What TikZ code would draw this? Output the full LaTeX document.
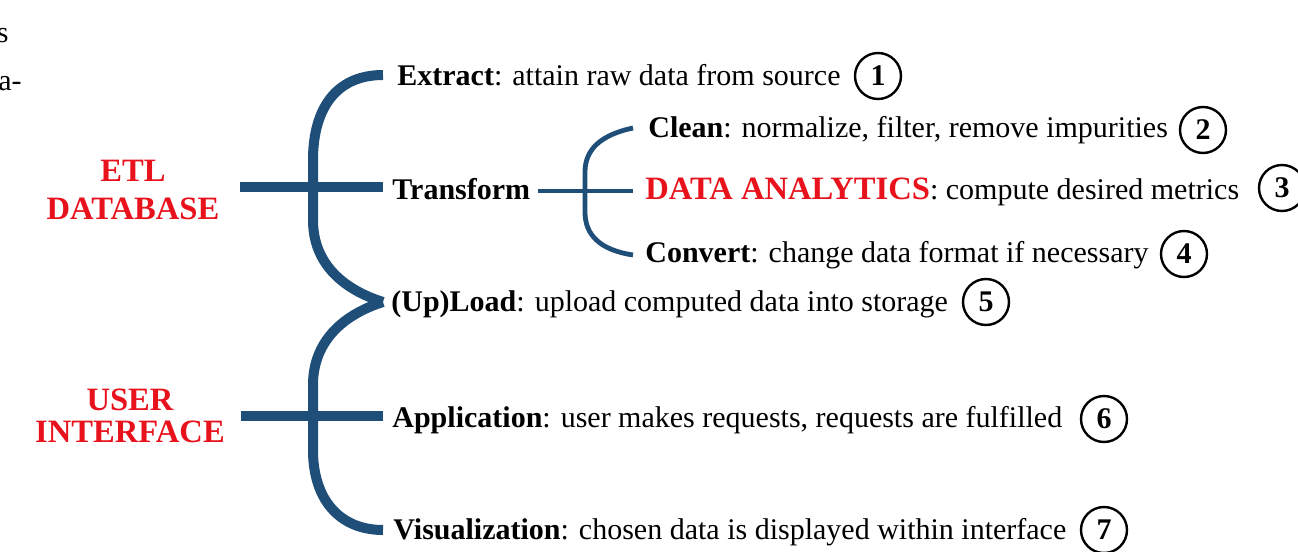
\documentclass[tikz,border=0pt]{standalone}
\usepackage{fontspec}
\setmainfont{Liberation Serif}
\definecolor{branch}{RGB}{31,78,121}
\definecolor{hot}{RGB}{232,18,28}
\tikzset{
  item/.style={anchor=base west, inner sep=0pt, font=\fontsize{15}{18}\selectfont},
  group/.style={align=center, inner sep=0pt, text=hot},
  num/.style={circle, draw, line width=1.2pt, minimum size=23pt, inner sep=0pt,
              font=\fontsize{15}{18}\selectfont\bfseries},
  trunk/.style={draw=branch, line width=5pt},
  twig/.style={draw=branch, line width=2.4pt},
}
\begin{document}
\begin{tikzpicture}[x=0.5pt,y=-0.5pt]
  \useasboundingbox (0,0) rectangle (1298,552);

  % stray letters of the surrounding page text
  \node[item, anchor=base east] (frag1) at (9,42) {s};
  \node[item] (frag2) at (-2,90) {a-};

  % group labels
  \node[group, font=\fontsize{16.3}{19}\selectfont\bfseries] (etl) at (133,190) {ETL\\DATABASE};
  \node[group, font=\fontsize{16.3}{16}\selectfont\bfseries] (ui) at (130,416) {USER\\INTERFACE};

  % stage texts
  \node[item] (extract) at (397,85) {\textbf{Extract}: attain raw data from source};
  \node[item] (transform) at (392,199) {\textbf{Transform}};
  \node[item] (clean) at (648,137) {\textbf{Clean}: normalize, filter, remove impurities};
  \node[item] (analytics) at (645,199) {{\fontsize{16.3}{18}\selectfont\bfseries\color{hot}DATA ANALYTICS}: compute desired metrics};
  \node[item] (convert) at (645,262) {\textbf{Convert}: change data format if necessary};
  \node[item] (upload) at (391,311) {\textbf{(Up)Load}: upload computed data into storage};
  \node[item] (app) at (392,427) {\textbf{Application}: user makes requests, requests are fulfilled};
  \node[item] (vis) at (393,539) {\textbf{Visualization}: chosen data is displayed within interface};

  % step numbers
  \node[num] (n1) at (878,76) {1};
  \node[num] (n2) at (1203,130) {2};
  \node[num] (n3) at (1282,188) {3};
  \node[num] (n4) at (1184,254) {4};
  \node[num] (n5) at (986,302) {5};
  \node[num] (n6) at (1104,419) {6};
  \node[num] (n7) at (1104,530) {7};

  % bracket end points
  \coordinate (bExt) at (383,75);
  \coordinate (bUp) at (383,302);
  \coordinate (bVis) at (383,530);
  \coordinate (sTop) at (633,128);
  \coordinate (sBot) at (633,255);
  \coordinate (sMid) at (633,191);

  % ETL bracket and its stem
  \draw[trunk] (bExt) .. controls (335,75) and (313,110) .. (313,160)
               -- (313,220) .. controls (313,265) and (345,290) .. (bUp);
  \draw[trunk] ([xshift=10pt]etl.east |- 0,187) -- (bExt |- 0,187);

  % user interface bracket and its stem
  \draw[trunk] (bUp) .. controls (345,314) and (313,340) .. (313,385)
               -- (313,450) .. controls (313,500) and (340,530) .. (bVis);
  \draw[trunk] ([xshift=8pt]ui.east |- 0,416) -- (bVis |- 0,416);

  % transform sub-bracket
  \draw[twig] (sTop) .. controls (600,135) and (585,150) .. (585,172)
              -- (585,212) .. controls (585,235) and (600,250) .. (sBot);
  \draw[twig] ([xshift=3.5pt]transform.east |- sMid) -- (sMid);
\end{tikzpicture}
\end{document}
